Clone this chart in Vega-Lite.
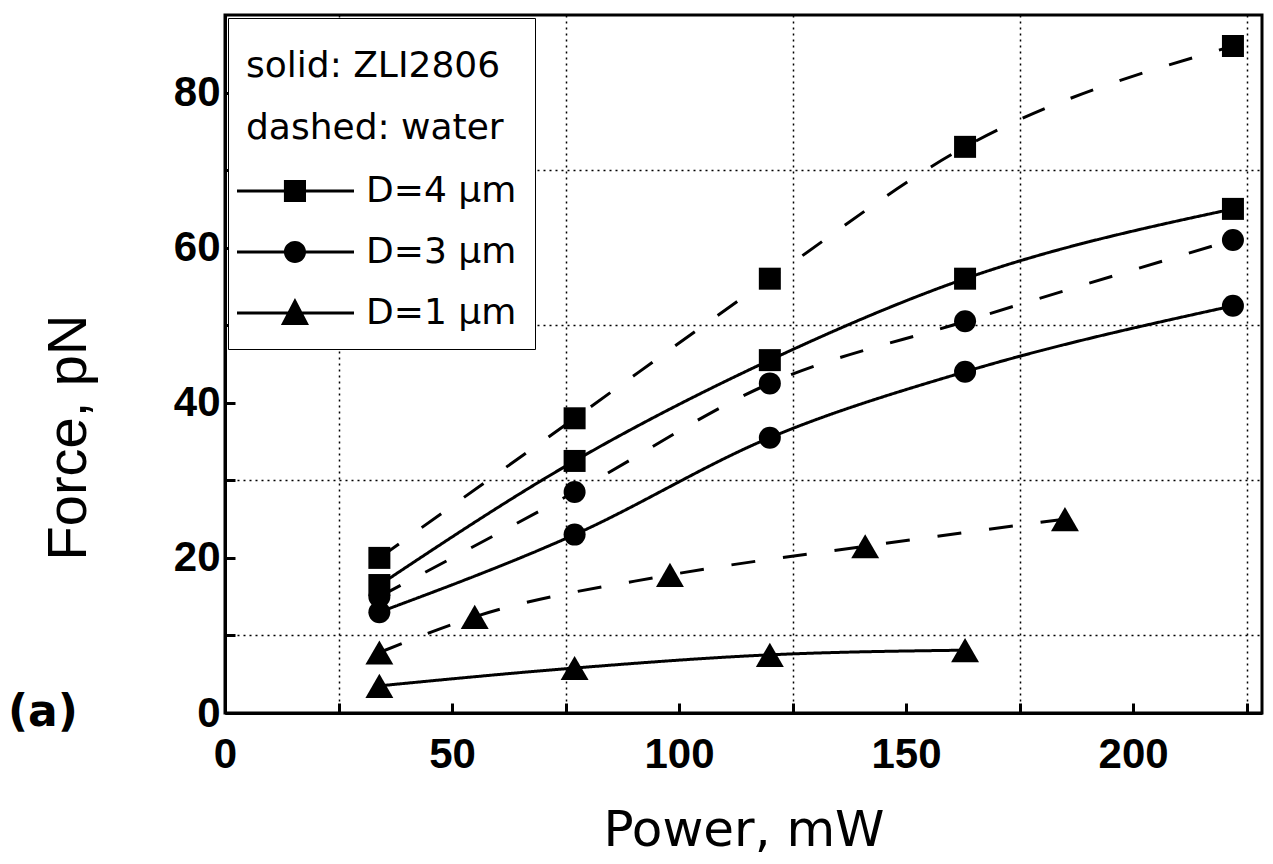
{
  "$schema": "https://vega.github.io/schema/vega-lite/v6.json",
  "width": 1037,
  "height": 698,
  "autosize": {"type": "none"},
  "padding": {"left": 225, "top": 15, "right": 11, "bottom": 151},
  "background": "white",
  "config": {"view": {"stroke": "black", "strokeWidth": 3}, "font": "Liberation Sans"},
  "title": {"text": "(a)", "orient": "top", "anchor": "start", "frame": "group", "offset": 0, "dx": -217, "dy": 755, "baseline": "alphabetic", "font": "DejaVu Sans", "fontSize": 44, "fontWeight": "bold", "color": "black"},
  "data": {"values": [
    {"D": "D=4 μm", "medium": "ZLI2806", "P": 34, "F": 16.5},
    {"D": "D=4 μm", "medium": "ZLI2806", "P": 77, "F": 32.5},
    {"D": "D=4 μm", "medium": "ZLI2806", "P": 120, "F": 45.5},
    {"D": "D=4 μm", "medium": "ZLI2806", "P": 163, "F": 56},
    {"D": "D=4 μm", "medium": "ZLI2806", "P": 222, "F": 65},
    {"D": "D=4 μm", "medium": "water", "P": 34, "F": 20},
    {"D": "D=4 μm", "medium": "water", "P": 77, "F": 38},
    {"D": "D=4 μm", "medium": "water", "P": 120, "F": 56},
    {"D": "D=4 μm", "medium": "water", "P": 163, "F": 73},
    {"D": "D=4 μm", "medium": "water", "P": 222, "F": 86},
    {"D": "D=3 μm", "medium": "ZLI2806", "P": 34, "F": 13},
    {"D": "D=3 μm", "medium": "ZLI2806", "P": 77, "F": 23},
    {"D": "D=3 μm", "medium": "ZLI2806", "P": 120, "F": 35.5},
    {"D": "D=3 μm", "medium": "ZLI2806", "P": 163, "F": 44},
    {"D": "D=3 μm", "medium": "ZLI2806", "P": 222, "F": 52.5},
    {"D": "D=3 μm", "medium": "water", "P": 34, "F": 15},
    {"D": "D=3 μm", "medium": "water", "P": 77, "F": 28.5},
    {"D": "D=3 μm", "medium": "water", "P": 120, "F": 42.5},
    {"D": "D=3 μm", "medium": "water", "P": 163, "F": 50.5},
    {"D": "D=3 μm", "medium": "water", "P": 222, "F": 61},
    {"D": "D=1 μm", "medium": "ZLI2806", "P": 34, "F": 3.5},
    {"D": "D=1 μm", "medium": "ZLI2806", "P": 77, "F": 5.8},
    {"D": "D=1 μm", "medium": "ZLI2806", "P": 120, "F": 7.5},
    {"D": "D=1 μm", "medium": "ZLI2806", "P": 163, "F": 8.1},
    {"D": "D=1 μm", "medium": "water", "P": 34, "F": 7.8},
    {"D": "D=1 μm", "medium": "water", "P": 55, "F": 12.4},
    {"D": "D=1 μm", "medium": "water", "P": 98, "F": 17.8},
    {"D": "D=1 μm", "medium": "water", "P": 141, "F": 21.5},
    {"D": "D=1 μm", "medium": "water", "P": 185, "F": 25}
  ]},
  "encoding": {
    "x": {"field": "P", "type": "quantitative",
      "scale": {"domain": [0, 228.4], "nice": false, "zero": false},
      "axis": {"title": "Power, mW", "values": [0, 25, 50, 75, 100, 125, 150, 175, 200, 225],
        "labelExpr": "datum.value % 50 === 0 ? datum.label : ''",
        "grid": true, "gridColor": "black", "gridDash": [2, 4], "gridWidth": 1.5,
        "gridOpacity": {"condition": {"test": "datum.value % 50 === 25", "value": 1}, "value": 0},
        "ticks": true, "tickSize": -10,
        "tickColor": "black", "tickWidth": 3, "domainColor": "black", "domainWidth": 3,
        "labelFont": "Liberation Sans", "labelFontSize": 42, "labelFontWeight": "bold", "labelColor": "black",
        "labelPadding": 31, "labelFlush": false, "labelOverlap": false,
        "titleFont": "DejaVu Sans", "titleFontSize": 50, "titleFontWeight": "normal", "titleColor": "black",
        "titleY": 132, "titleBaseline": "alphabetic"}},
    "y": {"field": "F", "type": "quantitative",
      "scale": {"domain": [0, 90], "nice": false, "zero": false},
      "axis": {"title": "Force, pN", "values": [0, 10, 20, 30, 40, 50, 60, 70, 80],
        "labelExpr": "datum.value % 20 === 0 ? datum.label : ''",
        "grid": true, "gridColor": "black", "gridDash": [2, 4], "gridWidth": 1.5,
        "gridOpacity": {"condition": {"test": "datum.value % 20 === 10", "value": 1}, "value": 0},
        "ticks": true, "tickSize": -10,
        "tickColor": "black", "tickWidth": 3, "domainColor": "black", "domainWidth": 3,
        "labelFont": "Liberation Sans", "labelFontSize": 42, "labelFontWeight": "bold", "labelColor": "black",
        "labelPadding": 15, "labelFlush": false, "labelOverlap": false,
        "titleFont": "Liberation Sans", "titleFontSize": 56, "titleFontWeight": "normal", "titleColor": "black",
        "titleX": -140, "titleY": 422, "titleBaseline": "alphabetic", "titleAlign": "center"}}
  },
  "resolve": {"scale": {"shape": "independent"}, "legend": {"shape": "independent"}},
  "layer": [
    {"mark": {"type": "line", "color": "black", "strokeWidth": 3, "interpolate": "monotone"},
     "encoding": {
       "detail": {"field": "D", "type": "nominal"},
       "strokeDash": {"field": "medium", "type": "nominal", "scale": {"domain": ["ZLI2806", "water"], "range": [[1, 0], [24, 28]]}, "legend": null}
     }},
    {"mark": {"type": "point", "filled": true, "color": "black", "opacity": 1, "size": 484},
     "encoding": {
       "shape": {"field": "D", "type": "nominal", "scale": {"domain": ["D=4 μm", "D=3 μm", "D=1 μm"], "range": ["square", "circle", "M0,-1.1L1.27,1.1H-1.27Z"]}, "legend": null}
     }},
    {"transform": [{"filter": "datum.P < 0"}],
     "mark": {"type": "point", "filled": true, "color": "black", "opacity": 1, "size": 576},
     "encoding": {
       "shape": {"field": "D", "type": "nominal",
         "scale": {"domain": ["D=4 μm", "D=3 μm", "D=1 μm"],
           "range": ["M-2.25,-0.125H7.5V0.125H-2.25ZM1.66,-0.92H3.5V0.92H1.66Z", "M-2.25,-0.125H7.5V0.125H-2.25ZM3.5,0A0.92,0.92 0 1,1 1.66,0A0.92,0.92 0 1,1 3.5,0Z", "M-2.25,-0.125H7.5V0.125H-2.25ZM2.58,-1.25L3.75,1H1.41Z"]},
         "legend": {
           "title": ["solid: ZLI2806", "dashed: water"],
           "orient": "top-left", "offset": 3, "padding": 18,
           "strokeColor": "black", "fillColor": "white",
           "titleFont": "DejaVu Sans", "titleFontSize": 36, "titleFontWeight": "normal", "titleColor": "black",
           "titleLineHeight": 62, "titleBaseline": "line-top", "titlePadding": 39, "titleLimit": 1000,
           "labelFont": "DejaVu Sans", "labelFontSize": 36, "labelColor": "black", "labelOffset": 84, "labelLimit": 1000,
           "symbolSize": 576, "rowPadding": 25, "symbolFillColor": "black", "symbolOpacity": 1
         }}
     }}
  ]
}
